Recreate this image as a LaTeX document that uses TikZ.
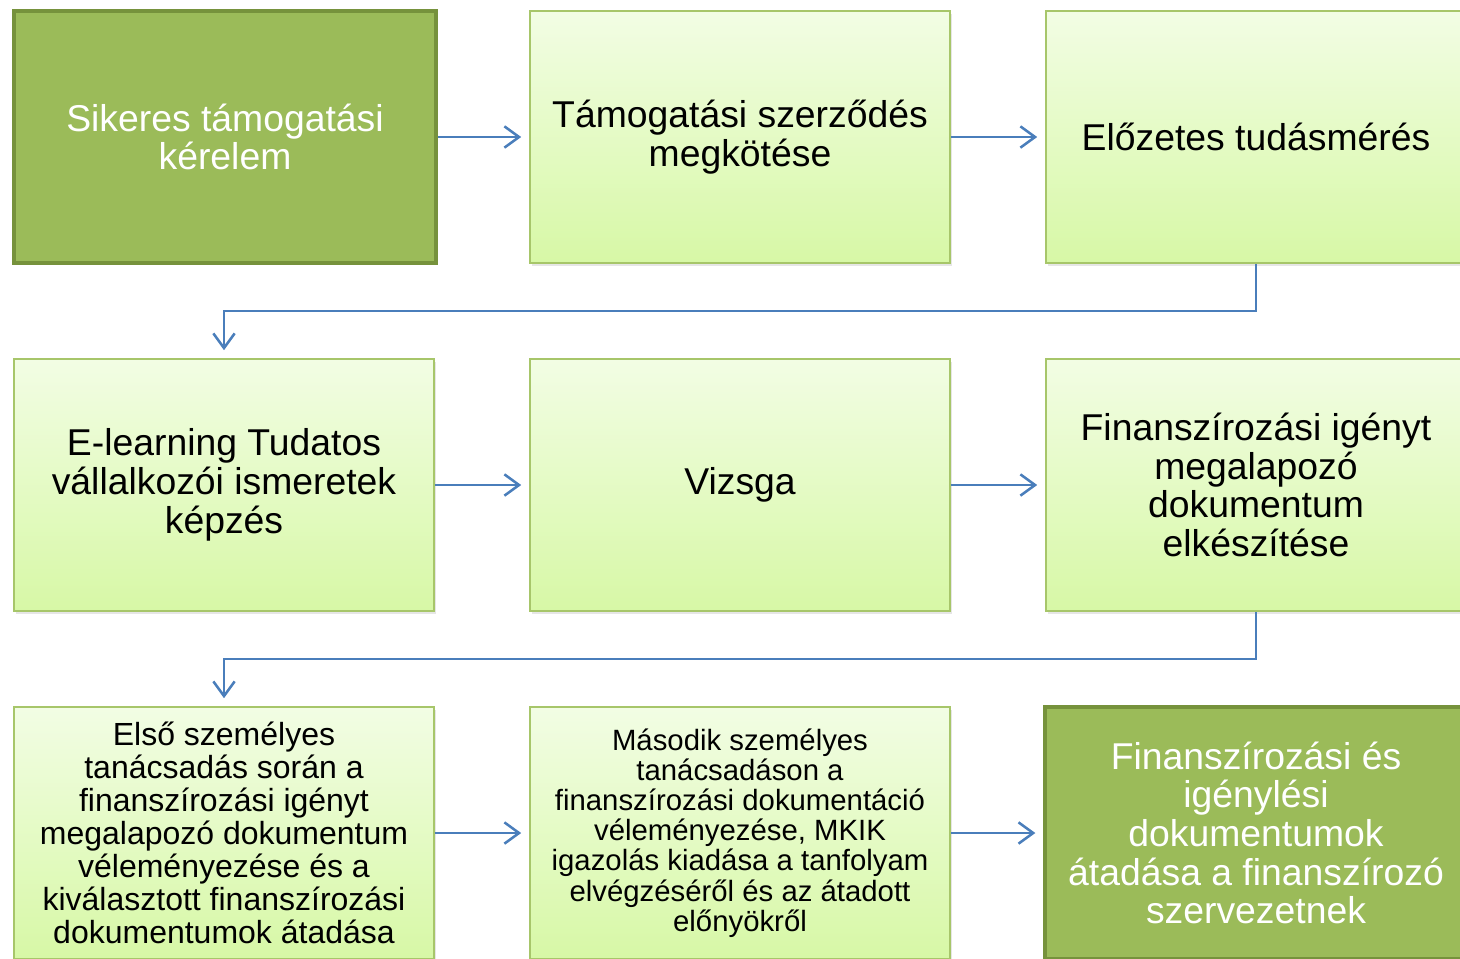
\documentclass[tikz,border=0pt]{standalone}
\usepackage{fontspec}
\setmainfont{Liberation Sans}
\usetikzlibrary{arrows.meta,shadows}
\definecolor{palegreen}{HTML}{F2FDE4}
\definecolor{lightgreen}{HTML}{D7F8A6}
\definecolor{boxedge}{HTML}{A7C66A}
\definecolor{darkfill}{HTML}{9BBB59}
\definecolor{darkedge}{HTML}{76923C}
\definecolor{linkblue}{HTML}{4A7EBB}
\begin{document}
\begin{tikzpicture}[x=0.75pt,y=-0.75pt,
  lbox/.style={draw=boxedge,line width=1.2pt,top color=palegreen,bottom color=lightgreen,
    minimum width=315pt,minimum height=189pt,inner sep=2pt,align=center,
    drop shadow={opacity=0.2,shadow xshift=1.5pt,shadow yshift=-2pt}},
  dbox/.style={draw=darkedge,line width=3pt,fill=darkfill,text=white,
    minimum width=316pt,minimum height=189pt,inner sep=2pt,align=center},
  big/.style={font=\fontsize{28}{29}\selectfont},
  mid/.style={font=\fontsize{24}{24.8}\selectfont},
  small/.style={font=\fontsize{22}{22.6}\selectfont},
  link/.style={draw=linkblue,line width=1.9pt,-{Straight Barb[length=11pt,width=16pt]},shorten >=6pt}]
\useasboundingbox (0,0) rectangle (1460,958);
% first row
\node [dbox,big] (kerelem) at (225,137) {Sikeres támogatási\\kérelem};
\node [lbox,big] (szerzodes) at (740,137) {Támogatási szerződés\\megkötése};
\node [lbox,big] (tudasmeres) at (1256,137) {Előzetes tudásmérés};
% second row
\node [lbox,big] (elearning) at (224,485) {E-learning Tudatos\\vállalkozói ismeretek\\képzés};
\node [lbox,big] (vizsga) at (740,485) {Vizsga};
\node [lbox,big] (dokumentum) at (1256,485) {Finanszírozási igényt\\megalapozó\\dokumentum\\elkészítése};
% third row
\node [lbox,mid] (elso) at (224,833) {Első személyes\\tanácsadás során a\\finanszírozási igényt\\megalapozó dokumentum\\véleményezése és a\\kiválasztott finanszírozási\\dokumentumok átadása};
\node [lbox,small] (masodik) at (740,833) {Második személyes\\tanácsadáson a\\finanszírozási dokumentáció\\véleményezése, MKIK\\igazolás kiadása a tanfolyam\\elvégzéséről és az átadott\\előnyökről};
\node [dbox,big] (atadas) at (1256,833) {Finanszírozási és\\igénylési\\dokumentumok\\átadása a finanszírozó\\szervezetnek};
% connectors
\draw [link] (kerelem) -- (szerzodes);
\draw [link] (szerzodes) -- (tudasmeres);
\draw [link] (tudasmeres.south) -- ++(0,47) -| (elearning.north);
\draw [link] (elearning) -- (vizsga);
\draw [link] (vizsga) -- (dokumentum);
\draw [link] (dokumentum.south) -- ++(0,47) -| (elso.north);
\draw [link] (elso) -- (masodik);
\draw [link] (masodik) -- (atadas);
\end{tikzpicture}
\end{document}
